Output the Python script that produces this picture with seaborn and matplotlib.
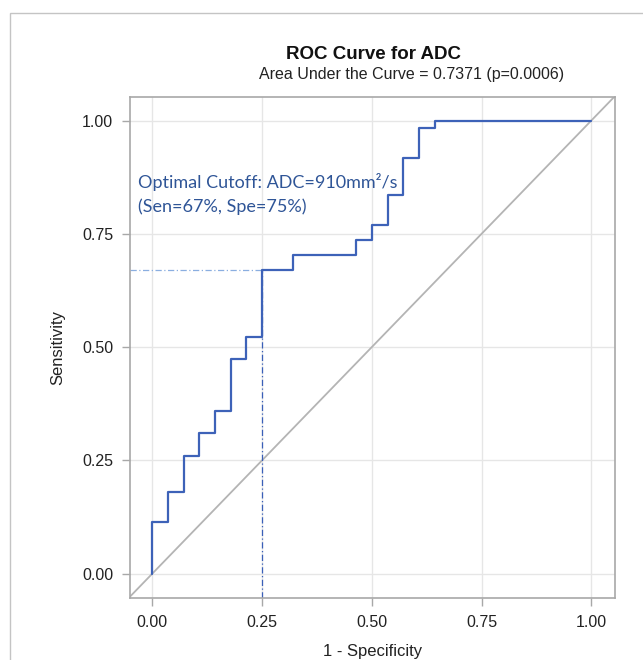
import seaborn as sns
import matplotlib.pyplot as plt
from matplotlib.patches import Rectangle

# ROC points (1 - specificity, sensitivity)
fpr = [0.0, 0.0, 0.036, 0.071, 0.107, 0.143, 0.179, 0.214, 0.25, 0.321,
       0.464, 0.5, 0.536, 0.571, 0.607, 0.643, 1.0]
sens = [0.0, 0.113, 0.18, 0.26, 0.31, 0.358, 0.474, 0.523, 0.671, 0.704,
        0.737, 0.77, 0.836, 0.917, 0.983, 1.0, 1.0]

cut_fpr = 0.25
cut_sens = 0.671
ticks = [0.0, 0.25, 0.5, 0.75, 1.0]
tick_labels = ["0.00", "0.25", "0.50", "0.75", "1.00"]

title = "ROC Curve for ADC"
subtitle = "Area Under the Curve = 0.7371 (p=0.0006)"
note1 = "Optimal Cutoff: ADC=910mm²/s"
note2 = "(Sen=67%, Spe=75%)"

sns.set_theme(style="white")
plt.rcParams['font.family'] = ['Liberation Sans', 'DejaVu Sans']

fig = plt.figure(figsize=(6.43, 6.60), dpi=100)
ax = fig.add_axes([130 / 643, 1 - 598 / 660, 485 / 643, 501 / 660])

# outer frame
fig.patches.append(Rectangle((10 / 643, -0.1), 1.2, 1 - 13 / 660 + 0.1,
                             transform=fig.transFigure, fill=False,
                             edgecolor="#c4c4c4", linewidth=1.0))

ax.set_xlim(-0.051, 1.054)
ax.set_ylim(-0.054, 1.052)
ax.grid(True, color="#e6e6e6", linewidth=1.0)
ax.set_axisbelow(True)

ax.axline((0, 0), slope=1, color="#b4b4b4", linewidth=1.3, zorder=2)

# cutoff guide lines
ax.plot([-0.051, cut_fpr], [cut_sens, cut_sens], color="#8aaee0",
        linestyle=(0, (5, 2, 1, 2)), linewidth=0.9, zorder=2)
ax.plot([cut_fpr, cut_fpr], [-0.054, cut_sens], color="#3a5fb8",
        linestyle=(0, (5, 2, 1, 2)), linewidth=0.9, zorder=2)

sns.lineplot(x=fpr, y=sens, estimator=None, sort=False, ax=ax,
             drawstyle="steps-post", color="#3d62b8", linewidth=1.6, zorder=3)

ax.text(-0.032, 0.851, note1, color="#2f5597", fontsize=13,
        family=['Lato', 'DejaVu Sans'], va="baseline", ha="left")
ax.text(-0.032, 0.798, note2, color="#2f5597", fontsize=13,
        family=['Lato', 'DejaVu Sans'], va="baseline", ha="left")

ax.set_xticks(ticks)
ax.set_xticklabels(tick_labels)
ax.set_yticks(ticks)
ax.set_yticklabels(tick_labels)
ax.tick_params(axis="both", which="both", direction="out", length=6,
               width=1, color="#a8a8a8", labelsize=11.5, labelcolor="#222222",
               bottom=True, left=True, pad=6)
for s in ax.spines.values():
    s.set_color("#a8a8a8")
    s.set_linewidth(1.2)

ax.set_xlabel("1 - Specificity", fontsize=12, color="#222222", labelpad=10)
ax.set_ylabel("Sensitivity", fontsize=12, color="#222222", labelpad=12)

fig.text(373 / 643, 1 - 59 / 660, title, ha="center", va="baseline",
         fontsize=13.5, fontweight="bold", color="#111111")
fig.text(412 / 643, 1 - 79 / 660, subtitle, ha="center", va="baseline",
         fontsize=11.5, color="#222222")

fig.savefig("out.png", dpi=100)
